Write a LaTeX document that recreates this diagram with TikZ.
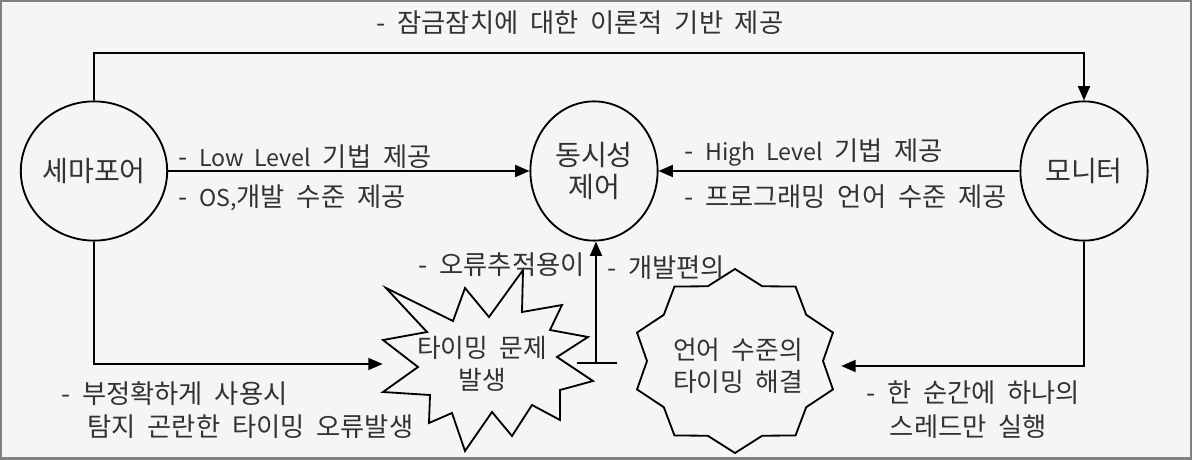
\documentclass[tikz,border=0pt]{standalone}
\usepackage{fontspec}
\setmainfont{Noto Sans CJK KR}[WordSpace=2.0]
\usetikzlibrary{arrows.meta, shapes.geometric, calc}
\definecolor{framegray}{RGB}{128,128,128}
\definecolor{paper}{RGB}{245,245,245}
\definecolor{ink}{RGB}{50,50,50}
\newcommand\lat[1]{{\fontsize{16.5}{24}\selectfont #1}}
\tikzset{
  state/.style={
    ellipse, draw=black, line width=1.3pt,
    minimum width=3.18cm, minimum height=3.48cm, inner sep=0pt,
    align=center, text=ink, font=\fontsize{20}{23}\selectfont
  },
  note/.style={
    inner sep=0pt, align=left, text=ink,
    font=\fontsize{18.7}{24}\selectfont
  },
  burstbox/.style={
    inner sep=0pt, align=center, text=ink,
    font=\fontsize{18.3}{23}\selectfont
  },
  outline/.style={draw=black, line width=1.3pt, line join=miter},
  arrow/.style={-{Triangle[length=0.36cm, width=0.3cm]}, line width=1.3pt, draw=black}
}

\begin{document}
\begin{tikzpicture}[x=0.025cm, y=-0.025cm]
  % frame
  \useasboundingbox (0,0) rectangle (1192,460);
  \fill[framegray] (0,0) rectangle (1192,460);
  \fill[paper] (2,2) rectangle (1190,457);

  % states
  \node[state] (sem)  at (94,171)   {세마포어};
  \node[state] (ctrl) at (594,171)  {동시성\\제어};
  \node[state] (mon)  at (1084,171) {모니터};

  % timing problem (burst)
  \draw[outline] (386,288) -- (453,321) -- (465,288) -- (489,317)
    -- (523,270) -- (522,312) -- (562,305) -- (550,330)
    -- (588,337) -- (557,357) -- (593,381) -- (560,390)
    -- (560,420) -- (532,405) -- (512,436) -- (492,412)
    -- (465,451) -- (452,413) -- (429,423) -- (430,395)
    -- (383,392) -- (418,367) -- (383,340) -- (427,332) -- cycle;
  \node[burstbox, minimum width=4.95cm, minimum height=4.45cm]
    (prob) at (482,364) {타이밍 문제\\발생};

  % language level fix (seal)
  \draw[outline] plot[samples at={0,...,19}]
    ({735+(103-15*mod(\x,2))*cos(90+18*\x)},
     {361-(92-13.4*mod(\x,2))*sin(90+18*\x)}) -- cycle;
  \node[burstbox, minimum width=5.15cm, minimum height=4.6cm]
    (sol) at (738,366) {언어 수준의\\타이밍 해결};

  \coordinate (topy) at (0,53);
  \coordinate (jn) at (596,363);

  % connectors
  \draw[arrow] (sem.north) -- (sem.north |- topy) -| (mon.north);
  \draw[arrow] (sem) -- (ctrl);
  \draw[arrow] (mon) -- (ctrl);
  \draw[arrow] (sem.south) |- (prob.west);
  \draw[arrow] (mon.south) |- (sol.east);
  \draw[line width=1.3pt] (jn) ++(-19,0) -- ++(40,0);
  \draw[arrow] (jn) -- (jn |- ctrl.south);

  % labels
  \node[note] (topL) at (580,23) {- 잠금잠치에 대한 이론적 기반 제공};
  \node[note, anchor=west] (lowL) at (178,157) {- \lat{Low Level} 기법 제공};
  \node[note, anchor=west] (osL) at (178,198) {- \lat{OS,}개발 수준 제공};
  \node[note, anchor=west] (highL) at (684,153) {- \lat{High Level} 기법 제공};
  \node[note, anchor=west] (progL) at (684,197) {- 프로그래밍 언어 수준 제공};
  \node[note, anchor=east] (errL) at (585,265) {- 오류추적용이};
  \node[note, anchor=west] (devL) at (607,268) {- 개발편의};
  \node[note, anchor=west] (misL) at (61,410)
    {- 부정확하게 사용시\\\hspace*{1em}탐지 곤란한 타이밍 오류발생};
  \node[note, anchor=west] (thrL) at (866,410)
    {- 한 순간에 하나의\\\hspace*{0.9em}스레드만 실행};
\end{tikzpicture}
\end{document}
